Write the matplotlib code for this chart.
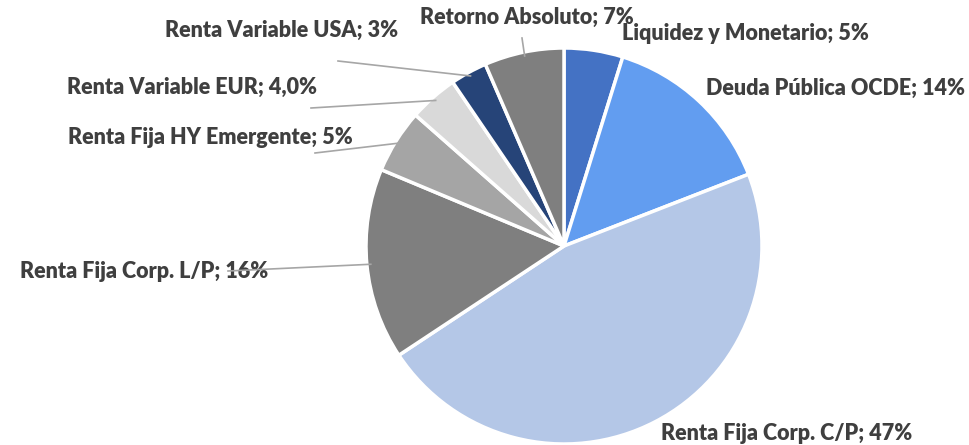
import numpy as np
import matplotlib
matplotlib.use("Agg")
from matplotlib import pyplot as plt

names = ["Liquidez y Monetario", "Deuda Pública OCDE", "Renta Fija Corp. C/P",
         "Renta Fija Corp. L/P", "Renta Fija HY Emergente", "Renta Variable EUR",
         "Renta Variable USA", "Retorno Absoluto"]
pct_text = ["5%", "14%", "47%", "16%", "5%", "4,0%", "3%", "7%"]
shares = [4.8, 14.3, 46.6, 15.6, 5.2, 4.0, 3.0, 6.5]
colors = ["#4472C4", "#629DF0", "#B4C7E7", "#7F7F7F", "#A5A5A5", "#D9D9D9",
          "#264478", "#7F7F7F"]

# label anchor (pixel coords, left x / center y) and leader line start near text
label_pos = [(622, 33), (706, 88), (661, 433), (20, 272), (68, 137),
             (67, 87), (165, 30), (420, 17)]
leader_from = [None, None, None, (228, 271), (315, 153), (311, 108),
               (338, 61), (522, 38)]

W, H = 969, 445
cx, cy, r = 564, 246, 198

fig = plt.figure(figsize=(W / 100, H / 100), dpi=100)
ax = fig.add_axes([0, 0, 1, 1])

wedges, _ = ax.pie(shares, colors=colors, startangle=90, counterclock=False,
                   center=(cx, H - cy), radius=r,
                   wedgeprops=dict(edgecolor="white", linewidth=2.5))
ax.set_xlim(0, W)
ax.set_ylim(0, H)
ax.set_aspect("equal")
ax.axis("off")

for i, w in enumerate(wedges):
    tx, ty = label_pos[i]
    ax.text(tx, H - ty, f"{names[i]}; {pct_text[i]}", ha="left", va="center",
            fontsize=15.5, fontweight="heavy", color="#3F3F3F", family="Lato",
            zorder=3)
    if leader_from[i] is not None:
        ang = np.deg2rad((w.theta1 + w.theta2) / 2)
        ex = cx + r * 0.98 * np.cos(ang)
        ey = (H - cy) + r * 0.98 * np.sin(ang)
        lx, ly = leader_from[i]
        ax.plot([lx, ex], [H - ly, ey], color="#A6A6A6", lw=1.2, zorder=4)

fig.savefig("out.png", dpi=100)
